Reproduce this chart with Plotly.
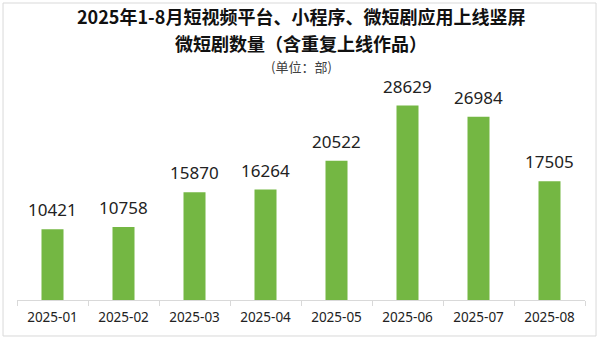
import plotly.graph_objects as go

# Monthly counts of vertical micro-dramas launched (Jan–Aug 2025)
months = ["2025-01", "2025-02", "2025-03", "2025-04",
          "2025-05", "2025-06", "2025-07", "2025-08"]
counts = [10421, 10758, 15870, 16264, 20522, 28629, 26984, 17505]

title_line1 = "2025年1-8月短视频平台、小程序、微短剧应用上线竖屏"
title_line2 = "微短剧数量（含重复上线作品）"
unit_label = "(单位：部)"

CJK = "Noto Sans CJK SC"
NUM = "Noto Sans"

fig = go.Figure()
fig.add_trace(go.Bar(
    x=months,
    y=counts,
    width=0.31,
    marker=dict(color="#74b743", line=dict(width=0)),
    hoverinfo="x+y",
))

# value labels above each bar
for m, v in zip(months, counts):
    fig.add_annotation(
        x=m, y=v, text=f"{v}", showarrow=False,
        xref="x", yref="y", yanchor="bottom", yshift=6,
        font=dict(family=NUM, size=17, color="#222222"),
    )

# title block
fig.add_annotation(
    x=0.5, y=1.290, xref="paper", yref="paper", showarrow=False,
    text=f"<b>{title_line1}</b>", yanchor="middle", xanchor="center",
    font=dict(family=CJK, size=18, color="#111111"),
)
fig.add_annotation(
    x=0.5, y=1.166, xref="paper", yref="paper", showarrow=False,
    text=f"<b>{title_line2}</b>", yanchor="middle", xanchor="center",
    font=dict(family=CJK, size=18, color="#111111"),
)
fig.add_annotation(
    x=0.5, y=1.060, xref="paper", yref="paper", showarrow=False,
    text=unit_label, yanchor="middle", xanchor="center",
    font=dict(family=CJK, size=13, color="#404040"),
)

# light frame around the whole figure
fig.add_shape(
    type="rect", xref="paper", yref="paper",
    x0=-0.0246, x1=1.0194, y0=-0.1636, y1=1.35,
    line=dict(color="#d9d9d9", width=1), fillcolor="rgba(0,0,0,0)",
)

fig.update_layout(
    width=600, height=340,
    margin=dict(l=17, r=15, t=80, b=40),
    paper_bgcolor="white", plot_bgcolor="white",
    showlegend=False,
    bargap=0.69,
)
fig.update_xaxes(
    type="category",
    showline=True, linecolor="#d9d9d9", linewidth=1,
    ticks="outside", tickson="boundaries", ticklen=5, tickcolor="#d9d9d9",
    ticklabelstandoff=5,
    tickfont=dict(family=NUM, size=13.5, color="#222222"),
    showgrid=False, zeroline=False,
)
fig.update_yaxes(
    range=[0, 32400], visible=False, showgrid=False, zeroline=False,
)

fig.write_html("out.html")
